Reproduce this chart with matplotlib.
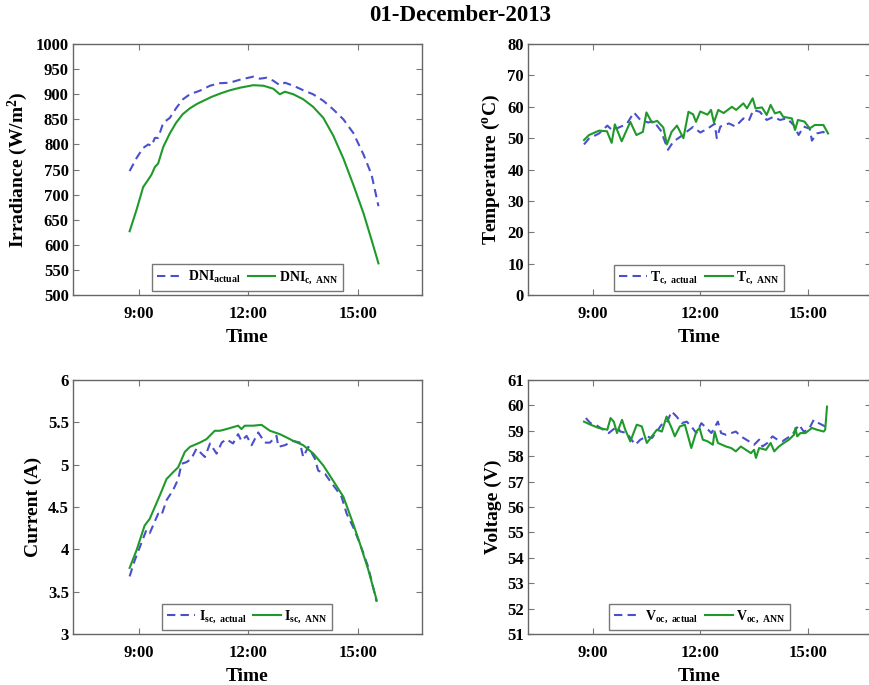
import matplotlib
matplotlib.use("Agg")
import matplotlib.pyplot as plt
from matplotlib.ticker import FixedLocator, FormatStrFormatter

plt.rcParams['font.family'] = ['Liberation Serif', 'DejaVu Serif']
plt.rcParams['font.weight'] = 'bold'
plt.rcParams['mathtext.fontset'] = 'custom'
plt.rcParams['mathtext.rm'] = 'Liberation Serif:bold'
plt.rcParams['mathtext.it'] = 'Liberation Serif:bold'
plt.rcParams['mathtext.bf'] = 'Liberation Serif:bold'

# ---------------- data (time in hours) ----------------
dni_act_t = [8.75, 8.94, 9.12, 9.26, 9.35, 9.44, 9.53, 9.67, 9.85, 10.03, 10.21, 10.40, 10.67, 10.95, 11.22,
             11.49, 11.77, 12.13, 12.32, 12.50, 12.68, 12.86, 13.00, 13.23, 13.50, 13.77, 14.05, 14.32, 14.60,
             14.87, 15.15, 15.37, 15.56]
dni_act = [747, 773, 793, 800, 797, 813, 813, 843, 853, 873, 890, 900, 907, 917, 922, 923, 929, 935, 931, 933,
           927, 918, 923, 917, 908, 900, 887, 870, 850, 823, 780, 740, 677]
dni_ann_t = [8.75, 8.94, 9.12, 9.26, 9.35, 9.44, 9.53, 9.67, 9.85, 10.02, 10.20, 10.40, 10.60, 10.80, 11.00,
             11.25, 11.50, 11.77, 12.13, 12.41, 12.68, 12.86, 13.00, 13.23, 13.50, 13.77, 14.05, 14.32, 14.60,
             14.87, 15.15, 15.37, 15.56]
dni_ann = [627, 670, 715, 730, 740, 755, 762, 795, 822, 843, 860, 872, 881, 888, 895, 902, 908, 913, 918, 917,
           911, 900, 905, 900, 890, 875, 853, 818, 772, 720, 663, 610, 563]

tc_act_t = [8.76, 8.90, 9.18, 9.41, 9.55, 9.75, 9.95, 10.15, 10.33, 10.55, 10.70, 10.90, 11.10, 11.25, 11.45,
            11.65, 11.80, 12.00, 12.20, 12.40, 12.46, 12.56, 12.80, 12.98, 13.20, 13.35, 13.48, 13.66, 13.85,
            14.04, 14.22, 14.41, 14.60, 14.74, 14.88, 15.05, 15.11, 15.25, 15.43, 15.56]
tc_act = [48.0, 49.9, 51.5, 54.0, 52.5, 53.5, 54.5, 58.2, 55.8, 55.0, 55.4, 52.4, 46.3, 48.9, 50.5, 52.3, 53.6,
          51.8, 53.0, 54.6, 50.0, 53.7, 54.7, 53.7, 56.3, 55.5, 59.0, 58.4, 55.8, 56.8, 55.8, 56.3, 54.2, 51.0,
          53.7, 53.0, 49.2, 51.5, 52.0, 50.5]
tc_ann_t = [8.76, 8.90, 9.18, 9.40, 9.53, 9.62, 9.81, 10.05, 10.22, 10.40, 10.50, 10.65, 10.80, 10.97, 11.07,
            11.20, 11.35, 11.53, 11.67, 11.80, 11.88, 12.00, 12.20, 12.30, 12.38, 12.50, 12.65, 12.88, 13.00,
            13.20, 13.30, 13.46, 13.54, 13.72, 13.85, 13.96, 14.08, 14.22, 14.31, 14.55, 14.64, 14.72, 14.90,
            15.05, 15.19, 15.43, 15.56]
tc_ann = [49.4, 51.0, 52.4, 52.2, 48.5, 54.4, 49.0, 55.2, 51.0, 52.0, 58.2, 55.0, 55.5, 53.4, 48.0, 52.0, 54.0,
          50.0, 58.4, 57.6, 55.2, 58.5, 57.5, 59.0, 55.0, 59.0, 58.0, 60.0, 59.0, 61.1, 59.5, 62.7, 59.5, 59.8,
          57.4, 60.6, 57.9, 58.4, 56.8, 56.3, 52.6, 55.8, 55.3, 53.1, 54.2, 54.2, 51.5]

isc_act_t = [8.75, 8.89, 9.21, 9.30, 9.39, 9.53, 9.62, 9.76, 9.94, 10.08, 10.17, 10.31, 10.44, 10.58, 10.81,
             10.95, 11.13, 11.27, 11.40, 11.58, 11.72, 11.81, 11.95, 12.09, 12.27, 12.45, 12.59, 12.77, 12.82,
             13.00, 13.23, 13.41, 13.50, 13.64, 13.82, 13.91, 14.10, 14.23, 14.42, 14.55, 14.69, 14.87, 15.05,
             15.28, 15.51]
isc_act = [3.68, 3.87, 4.23, 4.19, 4.28, 4.42, 4.40, 4.58, 4.70, 4.83, 5.01, 5.03, 5.07, 5.19, 5.09, 5.25, 5.13,
           5.26, 5.30, 5.25, 5.36, 5.28, 5.34, 5.23, 5.38, 5.26, 5.26, 5.34, 5.21, 5.23, 5.28, 5.26, 5.09, 5.21,
           5.07, 4.93, 4.89, 4.81, 4.70, 4.62, 4.42, 4.26, 4.07, 3.79, 3.38]
isc_ann_t = [8.75, 8.94, 9.16, 9.30, 9.44, 9.58, 9.76, 9.94, 10.08, 10.26, 10.40, 10.67, 10.85, 11.08, 11.22,
             11.40, 11.72, 11.81, 11.90, 12.13, 12.36, 12.59, 12.86, 13.05, 13.23, 13.50, 13.78, 14.05, 14.32,
             14.60, 14.87, 15.05, 15.28, 15.51]
isc_ann = [3.78, 3.99, 4.28, 4.36, 4.50, 4.64, 4.83, 4.91, 4.97, 5.15, 5.21, 5.26, 5.30, 5.40, 5.40, 5.42, 5.46,
           5.42, 5.46, 5.46, 5.47, 5.40, 5.36, 5.32, 5.28, 5.23, 5.13, 4.99, 4.81, 4.62, 4.30, 4.07, 3.76, 3.40]

voc_act_t = [8.81, 8.94, 9.08, 9.22, 9.45, 9.68, 9.77, 9.96, 10.05, 10.19, 10.33, 10.51, 10.65, 10.79, 10.92,
             11.06, 11.20, 11.34, 11.48, 11.62, 11.75, 11.89, 12.03, 12.17, 12.31, 12.49, 12.58, 12.72, 12.99,
             13.13, 13.36, 13.50, 13.64, 13.73, 13.87, 14.01, 14.15, 14.28, 14.42, 14.56, 14.75, 14.88, 15.02,
             15.16, 15.30, 15.48]
voc_act = [59.50, 59.30, 59.24, 59.11, 58.91, 59.17, 58.97, 58.91, 58.71, 58.45, 58.65, 58.78, 58.71, 58.97,
           59.24, 59.30, 59.76, 59.56, 59.30, 59.36, 59.17, 58.91, 59.30, 59.11, 58.91, 59.36, 58.91, 58.84,
           58.97, 58.78, 58.58, 58.45, 58.65, 58.38, 58.52, 58.78, 58.65, 58.58, 58.71, 58.84, 59.24, 58.97,
           59.04, 59.43, 59.30, 59.17]
voc_ann_t = [8.76, 8.94, 9.17, 9.41, 9.50, 9.59, 9.68, 9.82, 9.91, 10.05, 10.23, 10.37, 10.51, 10.65, 10.79,
             10.93, 11.06, 11.20, 11.29, 11.43, 11.57, 11.75, 11.89, 11.98, 12.07, 12.21, 12.35, 12.40, 12.49,
             12.72, 12.86, 12.99, 13.13, 13.27, 13.41, 13.50, 13.55, 13.64, 13.83, 13.96, 14.06, 14.19, 14.33,
             14.47, 14.61, 14.65, 14.70, 14.79, 14.93, 15.11, 15.25, 15.44, 15.48, 15.53]
voc_ann = [59.36, 59.24, 59.11, 59.04, 59.50, 59.36, 58.91, 59.43, 59.04, 58.58, 59.24, 59.17, 58.52, 58.78,
           59.04, 58.97, 59.56, 59.11, 58.78, 59.17, 59.24, 58.32, 58.97, 59.11, 58.65, 58.58, 58.45, 58.97,
           58.52, 58.38, 58.32, 58.19, 58.38, 58.25, 58.12, 58.25, 57.93, 58.32, 58.25, 58.52, 58.19, 58.38,
           58.52, 58.65, 58.84, 59.11, 58.78, 58.91, 58.91, 59.11, 59.04, 58.97, 59.04, 59.95]

x_ticks = [9, 12, 15]
x_ticklabels = ['9:00', '12:00', '15:00']

title = '01-December-2013'

BLUE = '#4a50cc'
GREEN = '#1f9a2a'

fig = plt.figure(figsize=(8.7, 6.85), dpi=100)

panels = [
    # rect, t_a, y_a, t_n, y_n, ylim, yticks, ylabel, label_a, label_n
    ([0.0839, 0.5693, 0.4011, 0.3664], dni_act_t, dni_act, dni_ann_t, dni_ann, (500, 1000),
     list(range(500, 1001, 50)), r'Irradiance (W/m$^2$)', r'DNI$_{\mathrm{actual}}$', r'DNI$_{\mathrm{c,\ ANN}}$'),
    ([0.6069, 0.5693, 0.394, 0.3664], tc_act_t, tc_act, tc_ann_t, tc_ann, (0, 80),
     list(range(0, 81, 10)), r'Temperature ($^{\mathrm{o}}$C)', r'T$_{\mathrm{c,\ actual}}$', r'T$_{\mathrm{c,\ ANN}}$'),
    ([0.0839, 0.0745, 0.4011, 0.3708], isc_act_t, isc_act, isc_ann_t, isc_ann, (3, 6),
     [3, 3.5, 4, 4.5, 5, 5.5, 6], 'Current (A)', r'I$_{\mathrm{sc,\ actual}}$', r'I$_{\mathrm{sc,\ ANN}}$'),
    ([0.6069, 0.0745, 0.394, 0.3708], voc_act_t, voc_act, voc_ann_t, voc_ann, (51, 61),
     list(range(51, 62)), 'Voltage (V)', r'V$_{\mathrm{oc,\ actual}}$', r'V$_{\mathrm{oc,\ ANN}}$'),
]

for rect, ta, ya, tn, yn, ylim, yt, ylab, la, ln in panels:
    ax = fig.add_axes(rect)
    ax.plot(ta, ya, linestyle=(0, (4, 2.5)), color=BLUE, lw=1.5, label=la)
    ax.plot(tn, yn, '-', color=GREEN, lw=1.5, label=ln)
    ax.set_xlim(7.2, 16.75)
    ax.set_ylim(*ylim)
    ax.xaxis.set_major_locator(FixedLocator(x_ticks))
    ax.set_xticklabels(x_ticklabels)
    ax.yaxis.set_major_locator(FixedLocator(yt))
    ax.yaxis.set_major_formatter(FormatStrFormatter('%g'))
    ax.tick_params(direction='in', top=True, right=True, length=4, width=0.8, color='#777777',
                   labelsize=12)
    ax.tick_params(axis='x', pad=8)
    ax.tick_params(axis='y', pad=3)
    for lab in ax.get_xticklabels() + ax.get_yticklabels():
        lab.set_fontweight('bold')
    for sp in ax.spines.values():
        sp.set_color('#666666')
        sp.set_linewidth(1.0)
    ax.set_xlabel('Time', fontsize=14, fontweight='bold', labelpad=5)
    ax.set_ylabel(ylab, fontsize=14, fontweight='bold', labelpad=4)
    leg = ax.legend(loc='lower center', ncol=2, fontsize=10, handlelength=2.0, handletextpad=0.25,
                    columnspacing=0.5, borderpad=0.35, borderaxespad=0.3, fancybox=False,
                    framealpha=1, edgecolor='#777777')
    leg.get_frame().set_linewidth(1.0)

fig.text(0.529, 0.978, title, ha='center', va='center', fontsize=16.5, fontweight='bold')

fig.savefig('out.png', dpi=100)
